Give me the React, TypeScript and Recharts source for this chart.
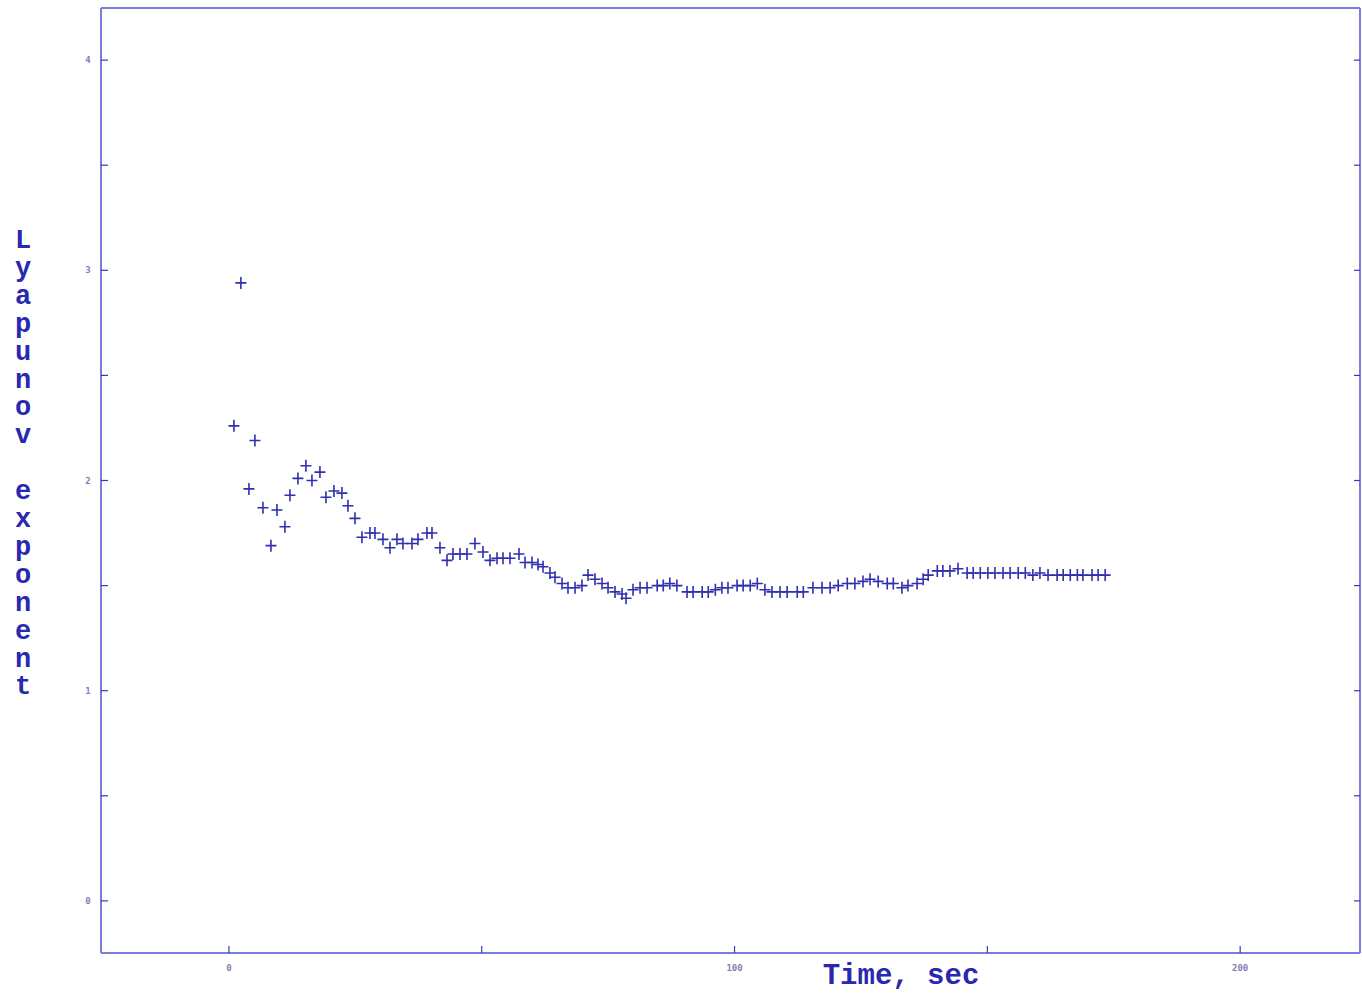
import { ScatterChart, Scatter, XAxis, YAxis } from "recharts";

// time (sec) and Lyapunov exponent
const times = [
  0.99, 2.37, 3.96, 5.14, 6.73, 8.31, 9.5, 11.08, 12.07, 13.65, 15.23, 16.42, 18.0, 19.19, 20.77, 22.35,
  23.54, 24.93, 26.31, 27.89, 28.88, 30.46, 31.85, 33.23, 34.42, 36.2, 37.39, 39.17, 40.16, 41.74, 43.13,
  44.31, 45.7, 47.08, 48.66, 50.25, 51.63, 53.02, 54.2, 55.59, 57.37, 58.56, 59.94, 61.13, 62.12, 63.5,
  64.49, 65.88, 67.06, 68.45, 69.83, 71.02, 72.4, 73.79, 74.98, 76.36, 77.75, 78.54, 79.92, 81.31, 82.69,
  84.7, 85.9, 87.2, 88.6, 90.6, 91.8, 93.6, 94.8, 96.2, 97.5, 98.7, 100.5, 101.7, 103.1, 104.5, 106.0,
  107.4, 109.0, 110.4, 112.4, 113.6, 115.5, 117.3, 118.9, 120.5, 122.3, 123.8, 125.4, 126.8, 128.4,
  130.2, 131.4, 133.1, 134.3, 136.1, 137.3, 138.3, 140.1, 141.2, 142.6, 144.2, 146.0, 147.2, 148.6,
  150.1, 151.5, 153.1, 154.5, 156.1, 157.5, 159.0, 160.4, 162.0, 163.8, 165.0, 166.4, 167.8, 168.9,
  170.7, 171.9, 173.3,
];

const lyapunov = [
  2.26, 2.94, 1.96, 2.19, 1.87, 1.69, 1.86, 1.78, 1.93, 2.01, 2.07, 2.0, 2.04, 1.92, 1.95, 1.94,
  1.88, 1.82, 1.73, 1.75, 1.75, 1.72, 1.68, 1.72, 1.7, 1.7, 1.72, 1.75, 1.75, 1.68, 1.62,
  1.65, 1.65, 1.65, 1.7, 1.66, 1.62, 1.63, 1.63, 1.63, 1.65, 1.61, 1.61, 1.6, 1.59, 1.56,
  1.54, 1.51, 1.49, 1.49, 1.5, 1.55, 1.53, 1.51, 1.49, 1.47, 1.46, 1.44, 1.48, 1.49, 1.49,
  1.5, 1.5, 1.51, 1.5, 1.47, 1.47, 1.47, 1.47, 1.48, 1.49, 1.49, 1.5, 1.5, 1.5, 1.51, 1.48,
  1.47, 1.47, 1.47, 1.47, 1.47, 1.49, 1.49, 1.49, 1.5, 1.51, 1.51, 1.52, 1.53, 1.52,
  1.51, 1.51, 1.49, 1.5, 1.51, 1.53, 1.55, 1.57, 1.57, 1.57, 1.58, 1.56, 1.56, 1.56,
  1.56, 1.56, 1.56, 1.56, 1.56, 1.56, 1.55, 1.56, 1.55, 1.55, 1.55, 1.55, 1.55, 1.55,
  1.55, 1.55, 1.55,
];

const xTicks = [0, 50, 100, 150, 200];
const xTickLabels = ["0", "", "100", "", "200"];
const yTicks = [0, 0.5, 1, 1.5, 2, 2.5, 3, 3.5, 4];
const yTickLabels = ["0", "", "1", "", "2", "", "3", "", "4"];

const yTitle = "Lyapunov exponent";
const xTitle = "Time, sec";

const data = times.map((t, i) => ({ t, l: lyapunov[i] }));

const FRAME = "#7c7cdc";
const TICK = "#3a3ab4";
const MARK = "#2f2fb0";
const LABEL = "#7e7eb0";

const Plus = (props: any) => {
  const { cx, cy } = props;
  if (cx == null || cy == null) return null;
  return (
    <path
      d={`M${cx - 5.5},${cy}H${cx + 5.5}M${cx},${cy - 6}V${cy + 6}`}
      stroke={MARK}
      strokeWidth={1.6}
      fill="none"
    />
  );
};

const tickFont = { fontFamily: "DejaVu Sans Mono", fontSize: 9, fill: LABEL, fontWeight: "bold" as const };

const BottomTick = ({ x, y, index }: any) => (
  <g>
    <line x1={x} x2={x} y1={y} y2={y - 7} stroke={TICK} strokeWidth={1.2} />
    <text x={x} y={y + 18} textAnchor="middle" {...tickFont}>
      {xTickLabels[index] ?? ""}
    </text>
  </g>
);

const TopTick = ({ x, y }: any) => (
  <line x1={x} x2={x} y1={y} y2={y + 6} stroke={TICK} strokeWidth={1.2} />
);

const LeftTick = ({ x, y, index }: any) => (
  <g>
    <line x1={x} x2={x + 7} y1={y} y2={y} stroke={TICK} strokeWidth={1.2} />
    <text x={x - 13} y={y + 3} textAnchor="middle" {...tickFont}>
      {yTickLabels[index] ?? ""}
    </text>
  </g>
);

const RightTick = ({ x, y }: any) => (
  <line x1={x} x2={x - 6} y1={y} y2={y} stroke={TICK} strokeWidth={1.2} />
);

export default function App() {
  const xDomain = [-25.3, 223.7];
  const yDomain = [-0.248, 4.248];
  return (
    <div style={{ position: "absolute", left: 0, top: 0, width: 1362, height: 994, background: "#fff" }}>
      <ScatterChart width={1362} height={994} margin={{ top: 7, right: 1, bottom: 0, left: 0 }}>
        <XAxis
          type="number"
          dataKey="t"
          domain={xDomain}
          ticks={xTicks}
          allowDataOverflow
          height={41}
          tickSize={0}
          tickMargin={0}
          tick={BottomTick}
          axisLine={{ stroke: FRAME, strokeWidth: 2 }}
        />
        <XAxis
          xAxisId="top"
          type="number"
          orientation="top"
          domain={xDomain}
          ticks={xTicks}
          allowDataOverflow
          height={1}
          tickSize={0}
          tickMargin={0}
          tick={TopTick}
          axisLine={{ stroke: FRAME, strokeWidth: 2 }}
        />
        <YAxis
          type="number"
          dataKey="l"
          domain={yDomain}
          ticks={yTicks}
          allowDataOverflow
          width={101}
          tickSize={0}
          tickMargin={0}
          tick={LeftTick}
          axisLine={{ stroke: FRAME, strokeWidth: 2 }}
        />
        <YAxis
          yAxisId="right"
          type="number"
          orientation="right"
          domain={yDomain}
          ticks={yTicks}
          allowDataOverflow
          width={1}
          tickSize={0}
          tickMargin={0}
          tick={RightTick}
          axisLine={{ stroke: FRAME, strokeWidth: 2 }}
        />
        <Scatter data={data} shape={Plus} isAnimationActive={false} />
      </ScatterChart>
      <svg
        width={1362}
        height={994}
        style={{ position: "absolute", left: 0, top: 0, pointerEvents: "none" }}
      >
        {yTitle.split("").map((ch, i) => (
          <text
            key={i}
            x={23}
            y={248 + i * 27.9}
            textAnchor="middle"
            fontFamily="Liberation Mono"
            fontWeight="bold"
            fontSize={27}
            fill="#2828b0"
          >
            {ch}
          </text>
        ))}
        <text
          x={901}
          y={984}
          textAnchor="middle"
          fontFamily="Liberation Mono"
          fontWeight="bold"
          fontSize={29}
          fill="#2828b0"
        >
          {xTitle}
        </text>
      </svg>
    </div>
  );
}
